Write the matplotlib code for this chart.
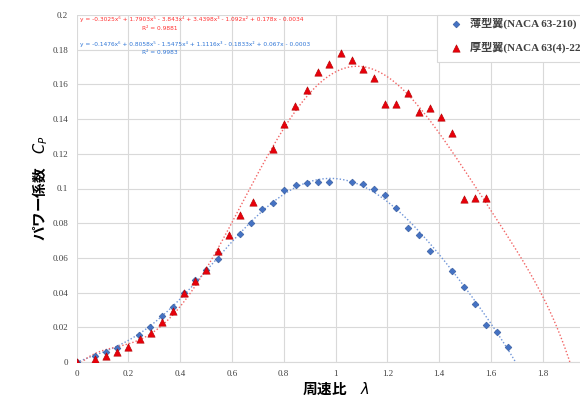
import numpy as np
import matplotlib
matplotlib.use('Agg')
import matplotlib.pyplot as plt
from matplotlib.patches import Rectangle

# Measured data: tip speed ratio vs power coefficient
thin_x = [0, 0.071, 0.114, 0.158, 0.241, 0.285, 0.329, 0.373, 0.415, 0.459,
          0.501, 0.546, 0.631, 0.675, 0.717, 0.760, 0.802, 0.846, 0.890, 0.934,
          0.976, 1.064, 1.106, 1.149, 1.191, 1.234, 1.279, 1.321, 1.365, 1.450,
          1.495, 1.537, 1.582, 1.624, 1.667]
thin_cp = [0, 0.0035, 0.0059, 0.0082, 0.0154, 0.0203, 0.0265, 0.0315, 0.040, 0.0471,
           0.053, 0.0592, 0.0736, 0.080, 0.0879, 0.0919, 0.0994, 0.1022, 0.103, 0.1036,
           0.1037, 0.1036, 0.1026, 0.0995, 0.0965, 0.089, 0.0774, 0.0732, 0.0642, 0.0526,
           0.0432, 0.0336, 0.0215, 0.0171, 0.0085]

thick_x = [0, 0.070, 0.114, 0.158, 0.200, 0.244, 0.286, 0.329, 0.373, 0.415,
           0.459, 0.501, 0.546, 0.589, 0.631, 0.681, 0.758, 0.802, 0.845, 0.891,
           0.934, 0.976, 1.020, 1.064, 1.106, 1.149, 1.191, 1.234, 1.280, 1.322,
           1.365, 1.407, 1.450, 1.495, 1.537, 1.580]
thick_cp = [0, 0.0017, 0.0035, 0.0056, 0.0086, 0.0133, 0.0169, 0.0232, 0.0294, 0.040,
            0.0469, 0.053, 0.0638, 0.0733, 0.0845, 0.0924, 0.123, 0.137, 0.1475, 0.1568,
            0.167, 0.172, 0.178, 0.1742, 0.1689, 0.1639, 0.1485, 0.1485, 0.155, 0.1441,
            0.1462, 0.141, 0.1322, 0.0938, 0.0947, 0.0947]

# Trendline coefficients as printed on the chart (x^6 ... x^0)
thin_coef = [-0.1476, 0.8058, -1.5475, 1.1116, -0.1833, 0.067, -0.0003]
thick_coef = [-0.3025, 1.7903, -3.843, 3.4398, -1.092, 0.178, -0.0034]
thin_r2 = 0.9983
thick_r2 = 0.9881

labels = ['薄型翼(NACA 63-210)', '厚型翼(NACA 63(4)-221)']
x_ticks = [0, 0.2, 0.4, 0.6, 0.8, 1, 1.2, 1.4, 1.6, 1.8]
y_ticks = [0, 0.02, 0.04, 0.06, 0.08, 0.1, 0.12, 0.14, 0.16, 0.18, 0.2]

BLUE = '#4472C4'
RED = '#E8000B'
SERIF = ['Liberation Serif', 'Noto Sans CJK JP']
GOTHIC = ['Noto Sans CJK JP', 'DejaVu Sans']


def eq_text(coef):
    sup = ['⁶', '⁵', '⁴', '³', '²', '', '']
    parts = []
    for i, c in enumerate(coef):
        var = 'x' + sup[i] if i < 6 else ''
        val = '%g' % abs(c)
        if i == 0:
            parts.append(('-' if c < 0 else '') + val + var)
        else:
            parts.append(('- ' if c < 0 else '+ ') + val + var)
    return 'y = ' + ' '.join(parts)


fig = plt.figure(figsize=(5.8, 3.99), dpi=100)
ax = fig.add_axes([76.5 / 580, 1 - 362 / 399, 518 / 580, 347 / 399])

# Trendlines (clipped at Cp = 0 like the source)
xx = np.linspace(0, 2.0, 400)
ax.plot(xx, np.polyval(thin_coef, xx), ls=(0, (1, 1.5)), color='#6F95D8', lw=1.0, zorder=2)
ax.plot(xx, np.polyval(thick_coef, xx), ls=(0, (1, 1.5)), color='#F26464', lw=1.0, zorder=2)

ax.scatter(thin_x, thin_cp, marker='D', s=12, color=BLUE, edgecolor='#2F5597',
           linewidth=0.4, zorder=3, label=labels[0])
ax.scatter(thick_x, thick_cp, marker='^', s=28, color=RED, edgecolor='#B00000',
           linewidth=0.4, zorder=4, label=labels[1])

ax.set_xlim(0, 2.0)
ax.set_ylim(0, 0.2)
ax.set_xticks(x_ticks)
ax.set_yticks(y_ticks)
ax.set_xticklabels(['%g' % t for t in x_ticks], family=SERIF, fontsize=6.5, color='#404040')
ax.set_yticklabels(['%g' % t for t in y_ticks], family=SERIF, fontsize=6.5, color='#404040')
ax.tick_params(length=0, pad=6)
ax.grid(color='#D9D9D9', lw=0.8)
ax.set_axisbelow(True)
for s in ['top', 'right', 'left']:
    ax.spines[s].set_visible(False)
ax.spines['bottom'].set_color('#D9D9D9')

ax.set_xlabel('周速比　$\\lambda$', family=GOTHIC, fontsize=10.5, fontweight='bold', labelpad=2)
ax.set_ylabel('パワー係数　$C_P$', family=GOTHIC, fontsize=10.5, fontweight='bold', labelpad=2)

# Trendline equations
fig.text(80 / 580, 1 - 19 / 399, eq_text(thick_coef), color='#FF3030', fontsize=4.2,
         va='center', ha='left')
fig.text(160 / 580, 1 - 28 / 399, 'R² = %.4f' % thick_r2, color='#FF3030', fontsize=4.2,
         va='center', ha='center')
fig.text(80 / 580, 1 - 44 / 399, eq_text(thin_coef), color='#2E75D6', fontsize=4.2,
         va='center', ha='left')
fig.text(160 / 580, 1 - 53 / 399, 'R² = %.4f' % thin_r2, color='#2E75D6', fontsize=4.2,
         va='center', ha='center')

# Legend box (runs off the right edge like the source)
fig.patches.append(Rectangle((437 / 580, 1 - 62 / 399), 170 / 580, 47 / 399,
                             transform=fig.transFigure, facecolor='white',
                             edgecolor='#D9D9D9', lw=0.8, zorder=5))
leg = fig.legend(loc='upper left', bbox_to_anchor=(444 / 580, 1 - 12 / 399),
                 prop={'family': SERIF, 'size': 8, 'weight': 'bold'},
                 frameon=False, borderpad=0, labelspacing=1.2,
                 handletextpad=0.6, handlelength=1.2, scatterpoints=1)
leg.set_zorder(6)
for t in leg.get_texts():
    t.set_color('#404040')

fig.savefig('out.png', dpi=100)
plt.close()
